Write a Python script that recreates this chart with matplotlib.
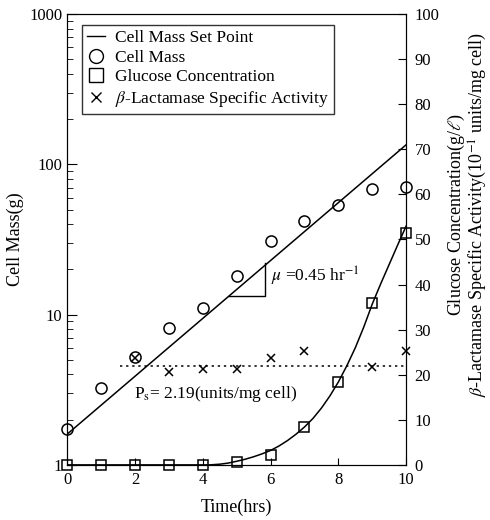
import numpy as np
import matplotlib
matplotlib.use('Agg')
from matplotlib import pyplot as plt
from matplotlib.lines import Line2D

plt.rcParams['font.family'] = ['Liberation Serif', 'DejaVu Serif']
plt.rcParams['mathtext.fontset'] = 'stix'

# data
hours = [0, 1, 2, 3, 4, 5, 6, 7, 8, 9, 10]
cell_mass = [1.74, 3.26, 5.2, 8.2, 11.0, 18.2, 30.8, 42.0, 53.5, 68.4, 71.0]
set_point_t = [0, 10]
set_point_mass = [1.6, 135]

glucose = [0, 0, 0, 0, 0, 0.7, 2.2, 8.4, 18.4, 35.9, 51.5]
glucose_fit_t = [0, 4.2, 4.5, 4.75, 5, 5.25, 5.5, 5.75, 6, 6.25, 6.5, 6.75, 7,
                 7.25, 7.5, 7.75, 8, 8.25, 8.5, 8.75, 9, 9.25, 9.5, 9.75, 10]
glucose_fit = [0, 0, 0.15, 0.4, 0.8, 1.25, 1.8, 2.45, 3.2, 4.2, 5.4, 6.8, 8.4,
               10.3, 12.6, 15.3, 18.4, 22.0, 26.0, 30.6, 35.7, 40.2, 44.5, 48.8, 53.0]

lact_t = [2, 3, 4, 5, 6, 7, 9, 10]
lact = [23.7, 20.6, 21.3, 21.3, 23.8, 25.3, 21.7, 25.3]
ps_level = 21.9

fig = plt.figure(figsize=(4.9, 5.2), dpi=100)
ax = fig.add_axes([0.137, 0.106, 0.692, 0.867])
ax2 = ax.twinx()

ax.set_yscale('log')
ax.set_xlim(0, 10)
ax.set_ylim(1, 1000)
ax2.set_ylim(0, 100)

ax.plot(set_point_t, set_point_mass, color='black', lw=1.1)
ax.plot(hours, cell_mass, 'o', mfc='none', mec='black', ms=8, mew=1.1, clip_on=False)

ax2.plot(glucose_fit_t, glucose_fit, color='black', lw=1.1)
ax2.plot(hours, glucose, 's', mfc='none', mec='black', ms=7, mew=1.1, clip_on=False)
ax2.plot(lact_t, lact, 'x', color='black', ms=6, mew=1.1, clip_on=False)
ax2.hlines(ps_level, 1.57, 10, colors='black', linestyles=(0, (1.5, 2.5)), lw=1.1)

# slope triangle
ax.plot([4.78, 5.84, 5.84], [13.2, 13.2, 21.9], color='black', lw=1.0)
ax.text(6.0, 18, r'$\mu$ =0.45 hr$^{-1}$', fontsize=12.5, va='center')
ax.text(1.98, 2.94, r'P$_{\rm s}$= 2.19(units/mg cell)', fontsize=12.5, va='center')

ax.set_xticks([0, 2, 4, 6, 8, 10])
ax.set_yticks([1, 10, 100, 1000])
ax.set_yticklabels(['1', '10', '100', '1000'])
ax2.set_yticks(np.arange(0, 101, 10))
ax.tick_params(axis='both', which='both', direction='in', labelsize=12)
ax.tick_params(axis='y', which='major', length=7)
ax.tick_params(axis='y', which='minor', length=4)
ax.tick_params(axis='x', length=5, pad=5)
ax2.tick_params(axis='y', direction='in', length=6, labelsize=12, pad=6)

ax.set_xlabel('Time(hrs)', fontsize=13, labelpad=8)
ax.set_ylabel('Cell Mass(g)', fontsize=13, labelpad=4)

fig.text(0.932, 0.587, r'Glucose Concentration(g/$\ell$)', rotation=90,
         ha='center', va='center', fontsize=13)
fig.text(0.976, 0.587, r'$\beta$-Lactamase Specific Activity(10$^{-1}$ units/mg cell)',
         rotation=90, ha='center', va='center', fontsize=13)

handles = [
    Line2D([], [], color='black', lw=1.0),
    Line2D([], [], marker='o', ls='none', mfc='none', mec='black', ms=10),
    Line2D([], [], marker='s', ls='none', mfc='none', mec='black', ms=10),
    Line2D([], [], marker='x', ls='none', color='black', ms=7),
]
labels = ['Cell Mass Set Point', 'Cell Mass', 'Glucose Concentration',
          r'$\beta$-Lactamase Specific Activity']
leg = ax2.legend(handles, labels, loc='upper left', bbox_to_anchor=(0.044, 0.976),
                 fontsize=12.5, frameon=True, fancybox=False, edgecolor='black',
                 handlelength=1.0, handletextpad=0.6, borderpad=0.3,
                 labelspacing=0.2, borderaxespad=0)
leg.get_frame().set_linewidth(1.0)

fig.savefig('out.png', dpi=100)
